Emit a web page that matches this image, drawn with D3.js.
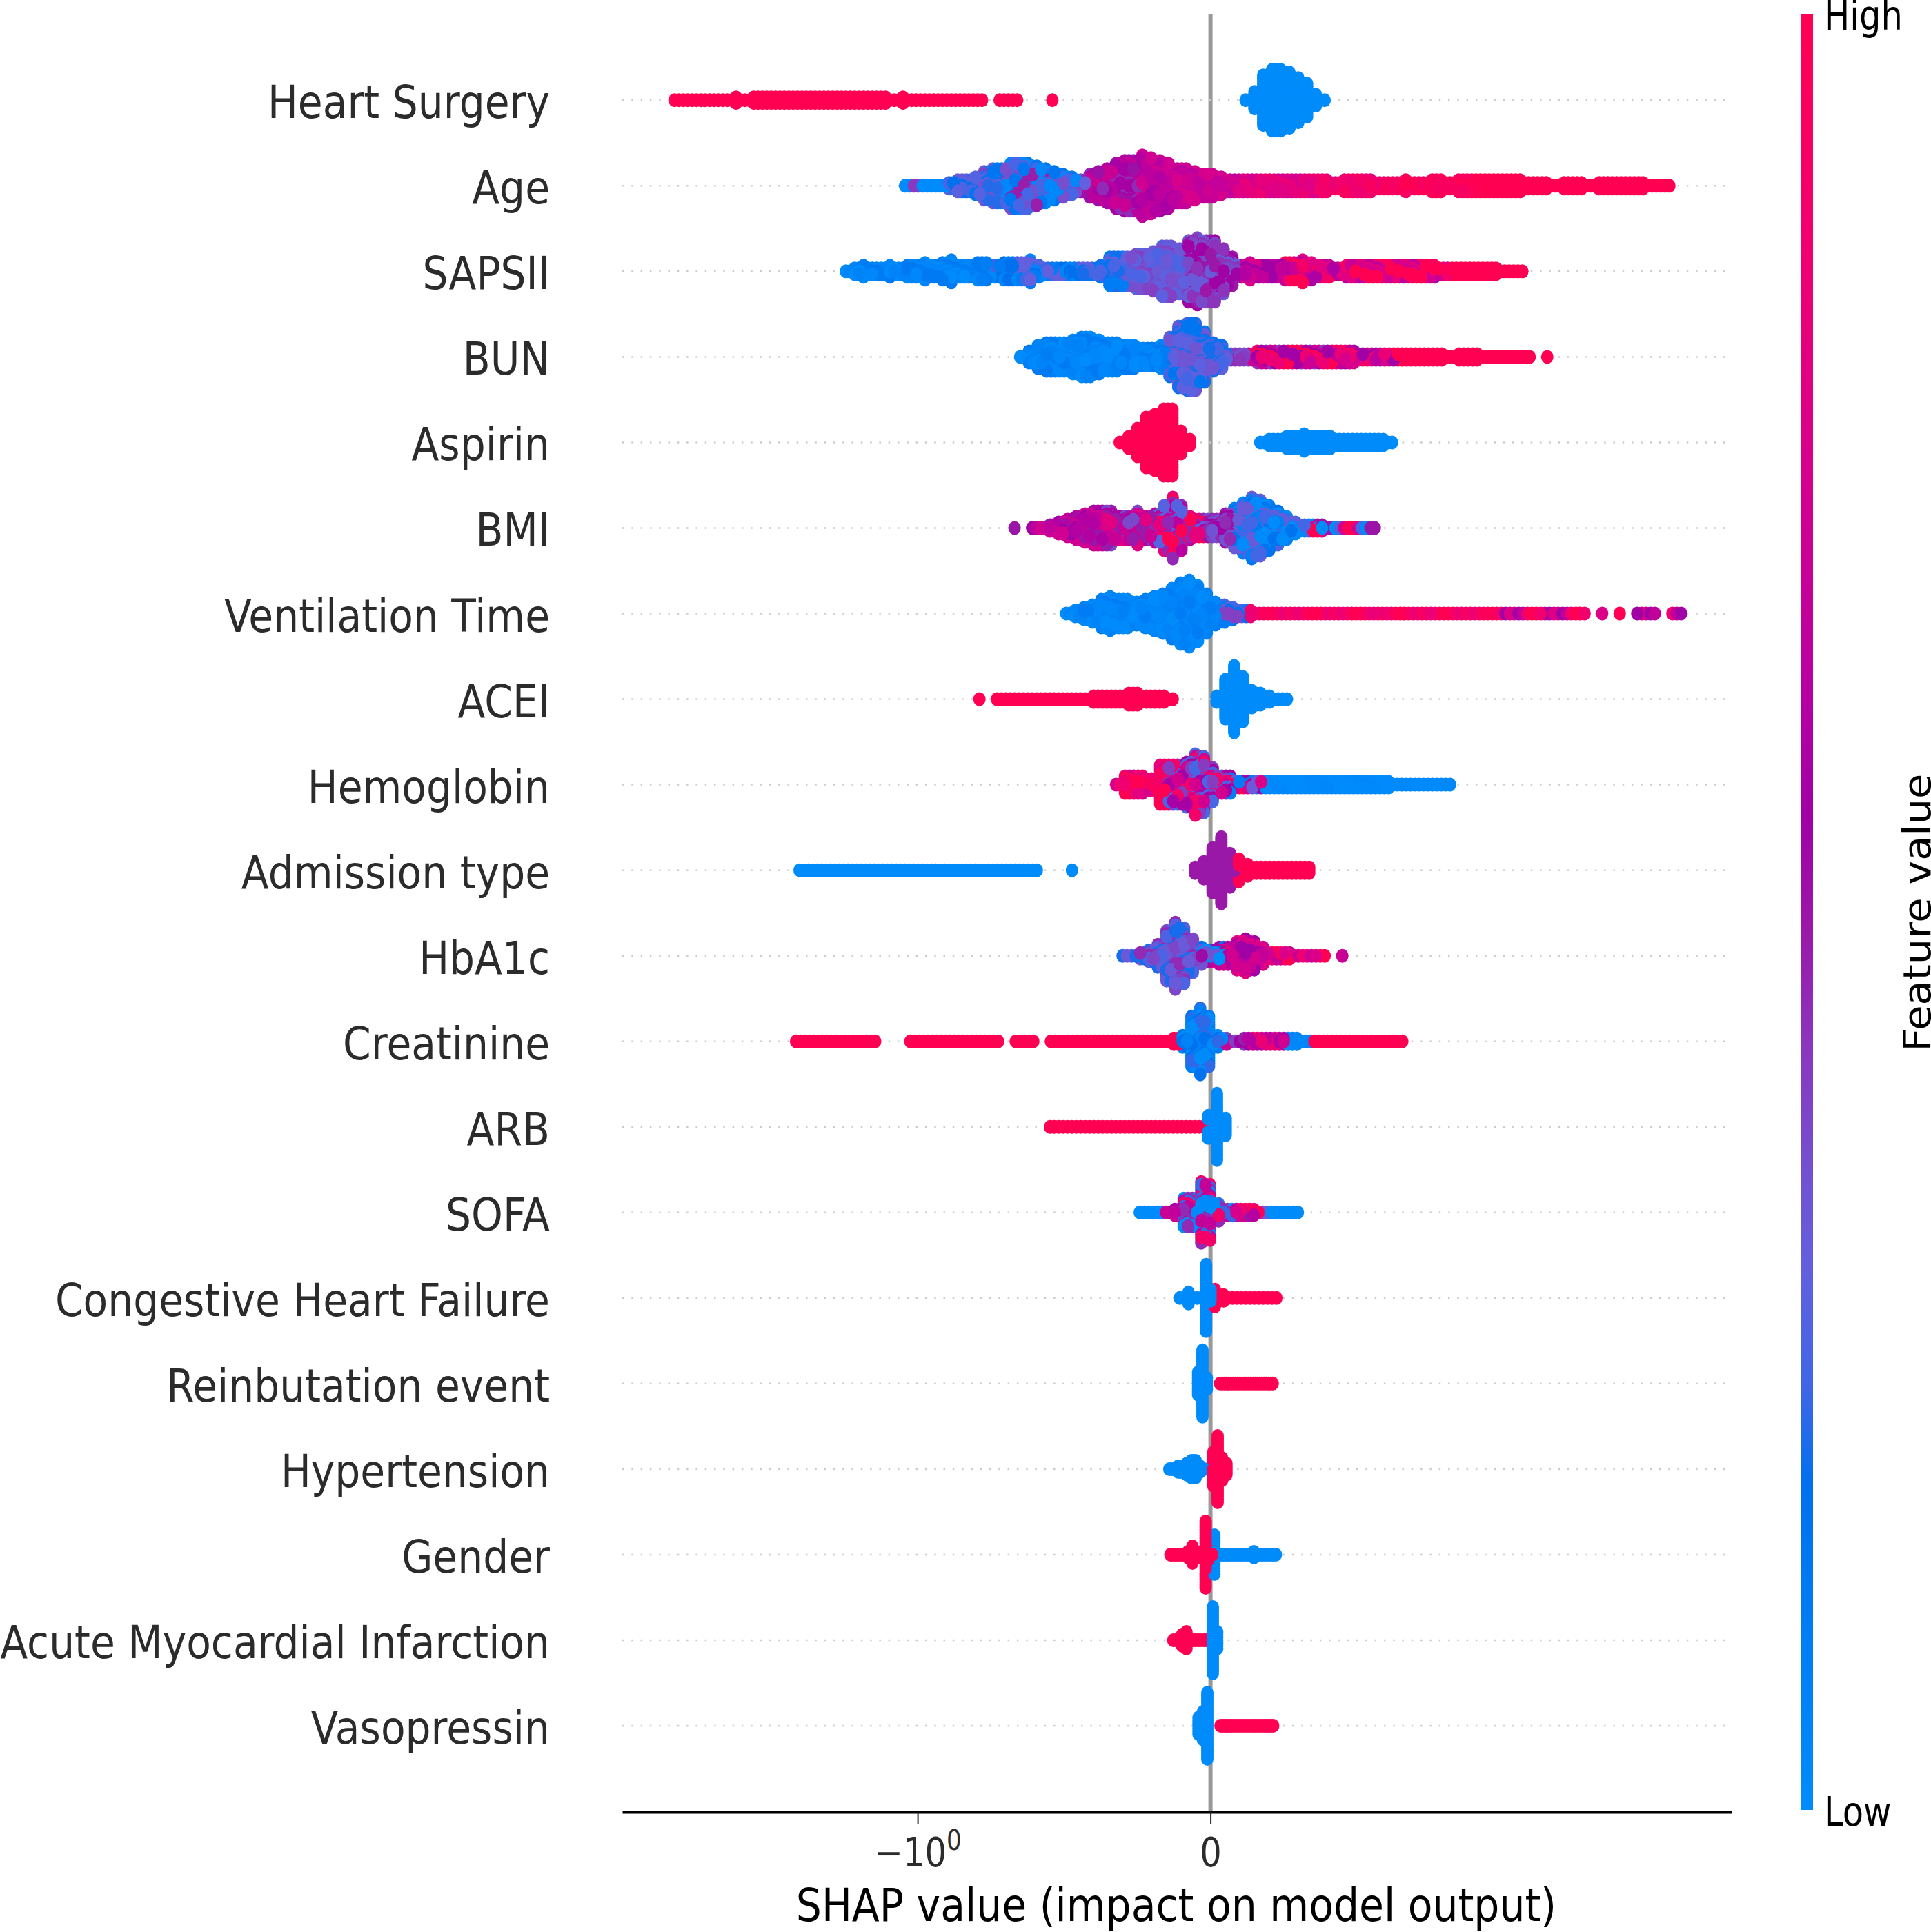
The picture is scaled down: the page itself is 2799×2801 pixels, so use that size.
<!DOCTYPE html>
<html>
<head>
<meta charset="utf-8">
<script src="https://cdn.jsdelivr.net/npm/d3@7"></script>
<style>
  body { margin: 0; background: #fff; }
  text { font-family: "DejaVu Sans", sans-serif; }
</style>
</head>
<body>
<div id="chart"></div>
<script>
const featureNames = ['Heart Surgery','Age','SAPSII','BUN','Aspirin','BMI','Ventilation Time','ACEI','Hemoglobin',
  'Admission type','HbA1c','Creatinine','ARB','SOFA','Congestive Heart Failure','Reinbutation event','Hypertension',
  'Gender','Acute Myocardial Infarction','Vasopressin'];

// every row is a histogram: value of the first bin, bin width,
// number of stacked layers per bin, and [up to value, lowest tone, highest tone] of the dots (0 low .. 1 high)
const firstBins = [-1.83,-1.043,-1.245,-0.65,-0.31,-0.669,-0.4926,-0.789,-0.322,-1.403,-0.30,-1.415,-0.548,-0.2416,-0.105,-0.0424,-0.1405,-0.1366,-0.127,-0.0408];
const binWidths = [0.03,0.03,0.03,0.03,0.03,0.03,0.03,0.03,0.03,0.03,0.03,0.03,0.03,0.03,0.03,0.015,0.015,0.015,0.015,0.015];

const heartSurgeryCounts = [1,1,1,1,1,1,1,2,1,2,2,2,2,2,2,2,2,2,2,2,2,2,2,2,2,1,2,1,1,1,1,1,1,1,1,1,0,1,1,1,0,0,0,1,
  0,0,0,0,0,0,0,0,0,0,0,0,0,0,0,0,0,0,0,0,0,1,4,10,12,12,11,9,7,3,1];
const ageCounts = [1,1,1,1,1,2,3,3,4,6,7,7,9,9,9,8,7,6,5,4,3,5,6,7,9,10,10,12,11,10,9,7,7,6,5,5,4,3,3,
  3,3,3,3,3,3,3,3,3,3,2,3,3,3,3,2,2,2,3,2,2,3,3,2,3,3,3,3,3,3,3,3,2,2,2,1,2,2,2,1,2,2,2,2,2,2,1,1,1];
const sapsCounts = [1,2,3,2,2,3,2,3,3,4,3,4,5,3,3,4,4,3,4,4,4,5,3,2,2,2,2,2,2,3,6,6,6,
  7,7,8,10,10,9,12,13,12,12,9,6,3,4,3,3,3,4,4,5,4,3,3,2,3,3,3,3,3,3,3,3,3,3,3,2,2,2,2,2,2,2,1,1,1];
const bunCounts = [1,3,5,6,6,6,7,8,8,7,6,6,5,5,4,4,5,8,12,13,13,10,6,5,2,2,2,3,3,3,3,3,3,3,3,3,3,3,3,
  2,2,2,2,2,2,2,2,2,2,1,2,2,2,1,1,1,1,1,1,0,1];
const aspirinCounts = [1,3,6,10,11,13,13,5,2,0,0,0,0,0,0,0,1,2,2,3,3,4,3,3,3,2,2,2,2,2,2,1];
const bmiCounts = [1,0,1,1,2,3,4,5,6,7,7,7,5,5,7,5,6,9,12,9,5,4,4,4,6,8,10,12,11,9,7,5,3,2,2,2,1,1,1,1,1,1];
const ventilationCounts = [1,2,3,4,6,7,6,6,5,6,7,8,10,12,13,11,8,5,4,3,2,2,
  1,1,1,1,1,1,1,1,1,1,1,1,1,1,1,1,1,1,1,1,1,1,1,1,1,1,1,1,1,1,1,1,1,1,1,1,1,1,0,1,0,1,0,1,1,1,0,1,1];
const aceiCounts = [1,0,1,1,1,1,1,1,1,1,1,1,1,2,2,2,2,3,3,2,2,2,1,0,0,0,0,2,8,13,9,4,3,2,1,1];
const hemoglobinCounts = [1,4,4,4,3,8,8,8,9,12,11,7,4,4,2,2,2,2,2,2,2,2,2,2,2,2,2,2,2,2,2,2,1,1,1,1,1,1,1];
const admissionCounts = [1,1,1,1,1,1,1,1,1,1,1,1,1,1,1,1,1,1,1,1,1,1,1,1,1,1,1,1,0,0,0,1,
  0,0,0,0,0,0,0,0,0,0,0,0,0,2,4,9,13,7,5,3,2,2,2,2,2,2,2];
const hba1cCounts = [1,1,2,3,5,10,13,11,7,4,3,4,4,6,7,6,4,2,2,2,1,1,1,1,0,1];
const creatinineCounts = [1,1,1,1,1,1,1,1,1,1,0,0,0,1,1,1,1,1,1,1,1,1,1,1,0,1,1,1,0,1,1,1,1,1,1,1,1,1,1,1,1,1,1,
  2,3,10,13,10,3,2,1,2,2,2,2,2,2,2,1,1,1,1,1,1,1,1,1,1,1,1];
const arbCounts = [1,1,1,1,1,1,1,1,1,1,1,1,1,1,1,1,1,1,5,13,4];
const sofaCounts = [1,1,1,1,2,6,6,12,11,4,2,2,2,2,1,1,1,1,1];
const chfCounts = [1,3,1,13,4,2,1,1,1,1,1,1];
const reintubationCounts = [5,13,3,0,0,1,1,1,1,1,1,1,1,1,1,1,1,1];
const hypertensionCounts = [1,1,2,2,3,4,4,2,1,0,7,13,5,3];
const genderCounts = [1,1,1,1,2,4,2,1,13,3,8,1,1,1,1,1,1,1,1,2,1,1,1,1,1];
const amiCounts = [1,1,3,4,1,1,1,1,1,13,4];
const vasopressinCounts = [4,6,13,0,0,1,1,1,1,1,1,1,1,1,1,1,1,1];

const heartSurgeryTones = [[-0.4,1,1],[9,0,0]];
const ageTones = [[-1.02,0,0],[-0.99,.42,.42],[-0.92,0,0],[-0.83,.18,.32],[-0.72,.15,.4],[-0.45,.02,.48],[-0.42,.3,.5],[-0.25,.45,.7],[-0.13,.58,.72],[.07,.62,.75],[.35,.72,.86],[.58,.84,.94],[.88,.92,1],[9,1,1]];
const sapsTones = [[-0.76,0,.12],[-0.45,.05,.3],[-0.3,.1,.3],[-0.09,.26,.4],[.08,.32,.55],[.23,.55,.78],[.47,.6,1],[.8,.65,1],[9,1,1]];
const bunTones = [[-0.17,0,.12],[.04,.15,.34],[.1,.36,.45],[.4,.42,1],[.63,.55,.95],[9,1,1]];
const aspirinTones = [[0,1,1],[9,0,0]];
const bmiTones = [[-0.37,.5,.72],[-0.19,.38,.8],[-0.03,.28,1],[.07,.35,.55],[.33,0,.32],[9,0,1]];
const ventilationTones = [[.02,0,.1],[.11,.1,.4],[1,.85,1],[9,.55,1]];
const aceiTones = [[0,1,1],[9,0,0]];
const hemoglobinTones = [[-0.17,.75,1],[.04,.25,.9],[.16,.1,1],[9,0,.02]];
const admissionTones = [[-0.2,0,0],[.07,.49,.49],[9,1,1]];
const hba1cTones = [[-0.06,.2,.45],[.03,0,.7],[.21,.55,.8],[9,.7,1]];
const creatinineTones = [[-0.125,1,1],[.025,0,.22],[.115,.4,.7],[.235,.6,.85],[.325,0,.05],[9,1,1]];
const arbTones = [[-0.03,1,1],[9,0,0]];
const sofaTones = [[-0.17,0,0],[-0.12,.55,.7],[.06,0,.9],[.15,.5,1],[.18,.3,.4],[9,0,0]];
const chfTones = [[0,0,0],[9,1,1]];
const reintubationTones = [[0,0,0],[9,1,1]];
const hypertensionTones = [[-0.005,0,0],[9,1,1]];
const genderTones = [[.006,1,1],[9,0,0]];
const amiTones = [[0,1,1],[9,0,0]];
const vasopressinTones = [[.01,0,0],[9,1,1]];

// colours of the colour bar, low to high
const barTones = [0,.107,.18,.235,.30,.36,.43,.49,.555,.62,.745,.87,1];
const barColors = ['#008bfb','#007cf3','#0070ee','#3f66e6','#6260de','#7450cf','#8c34bc','#9a18a8','#a000a5','#b600a2','#d5008e','#f00070','#ff0052'];

const allCounts = [heartSurgeryCounts,ageCounts,sapsCounts,bunCounts,aspirinCounts,bmiCounts,ventilationCounts,aceiCounts,
  hemoglobinCounts,admissionCounts,hba1cCounts,creatinineCounts,arbCounts,sofaCounts,chfCounts,reintubationCounts,
  hypertensionCounts,genderCounts,amiCounts,vasopressinCounts];
const allTones = [heartSurgeryTones,ageTones,sapsTones,bunTones,aspirinTones,bmiTones,ventilationTones,aceiTones,
  hemoglobinTones,admissionTones,hba1cTones,creatinineTones,arbTones,sofaTones,chfTones,reintubationTones,
  hypertensionTones,genderTones,amiTones,vasopressinTones];

const xTicks = [-1,0];
const width = 2799, height = 2801;
const labelScale = 0.897;      // the picture is squeezed horizontally
const layerStep = 4;

const svg = d3.select('#chart').append('svg').attr('width',width).attr('height',height);

// -1 and 0 sit where the picture has them
const x = d3.scaleLinear().domain([(902-1754.6)/424.5,(2510-1754.6)/424.5]).range([902,2510]);
const y = d3.scalePoint().domain(featureNames).range([145.3,2502]);
const color = d3.scaleLinear().domain(barTones).range(barColors).interpolate(d3.interpolateRgb);

// zero line
svg.append('line')
  .attr('x1',x(0)).attr('x2',x(0))
  .attr('y1',21).attr('y2',2627)
  .attr('stroke','#999').attr('stroke-width',6);

// dotted row lines
svg.append('g').selectAll('line').data(featureNames).join('line')
  .attr('x1',x.range()[0]).attr('x2',x.range()[1])
  .attr('y1',d => y(d)).attr('y2',d => y(d))
  .attr('stroke','#ccc').attr('stroke-width',2.5)
  .attr('stroke-dasharray','2.5 10.8');

// row labels
svg.append('g').selectAll('text').data(featureNames).join('text')
  .attr('transform',d => `translate(797,${y(d)+26}) scale(${labelScale},1)`)
  .attr('text-anchor','end')
  .attr('font-size',65)
  .attr('fill','#2b2b2b')
  .text(d => d);

// swarm: each layer of a bin gets a second dot half a bin on when the next bin is filled that high too
const mixPattern = [0,1,0.5,0.75,0.25];
let dots = [];
featureNames.forEach((name,r) => {
  let counts = allCounts[r];
  counts.forEach((n,i) => {
    let v = firstBins[r] + i*binWidths[r];
    let seg = allTones[r].find(t => v <= t[0]);
    let next = i+1 < counts.length ? counts[i+1] : 0;
    for(let k = -(n-1); k <= n-1; k++) {
      let p = mixPattern[(i*7 + (k+40)*3) % 5];
      let tone = seg[1] + (seg[2]-seg[1])*p;
      dots.push({name: name, v: v, k: k, tone: tone});
      if(Math.abs(k) < next) {
        let pNext = mixPattern[(i*3 + (k+40)*7 + 2) % 5];
        dots.push({name: name, v: v + binWidths[r]/2, k: k, tone: seg[1] + (seg[2]-seg[1])*pNext});
      }
    }
  });
});
// fixed scrambled drawing order so the tones overlap instead of forming stripes
dots = dots.map((d,i) => ({d:d, o:(i*7919) % 100003})).sort((a,b) => a.o-b.o).map(e => e.d);

svg.append('g').selectAll('ellipse').data(dots).join('ellipse')
  .attr('cx',d => x(d.v))
  .attr('cy',d => y(d.name) + d.k*layerStep)
  .attr('rx',9)
  .attr('ry',10)
  .attr('fill',d => color(d.tone));

// x axis
const axis = svg.append('g')
  .attr('transform','translate(0,2627)')
  .call(d3.axisBottom(x).tickValues(xTicks).tickSize(17).tickSizeOuter(0).tickFormat(d => d === 0 ? '0' : '\u221210'));
axis.select('.domain').attr('stroke','#000').attr('stroke-width',4);
axis.selectAll('.tick line').attr('stroke','#222').attr('stroke-width',2);
axis.selectAll('.tick text')
  .attr('font-family','"DejaVu Sans", sans-serif')
  .attr('font-size',58)
  .attr('fill','#2b2b2b')
  .attr('dy',null)
  .attr('y',79)
  .attr('transform','scale(0.855,1)')
  .each(function(d) {
    if(d === -1) d3.select(this).append('tspan').attr('dy',-24).attr('font-size',40).text('0');
  });

svg.append('text')
  .attr('transform','translate(1705,2785) scale(0.885,1)')
  .attr('text-anchor','middle')
  .attr('font-size',66)
  .attr('fill','#000')
  .text('SHAP value (impact on model output)');

// colour bar
const grad = svg.append('defs').append('linearGradient')
  .attr('id','barGradient').attr('x1',0).attr('x2',0).attr('y1',1).attr('y2',0);
grad.selectAll('stop').data(barTones).join('stop')
  .attr('offset',d => d)
  .attr('stop-color',d => color(d));
svg.append('rect')
  .attr('x',2610).attr('y',21).attr('width',18).attr('height',2603)
  .attr('fill','url(#barGradient)');

svg.append('text')
  .attr('transform','translate(2644,43) scale(0.855,1)')
  .attr('font-size',58)
  .text('High');
svg.append('text')
  .attr('transform','translate(2644,2647) scale(0.855,1)')
  .attr('font-size',58)
  .text('Low');
svg.append('text')
  .attr('transform','translate(2798,1323) rotate(-90) scale(1,0.93)')
  .attr('text-anchor','middle')
  .attr('font-size',59)
  .text('Feature value');
</script>
</body>
</html>
